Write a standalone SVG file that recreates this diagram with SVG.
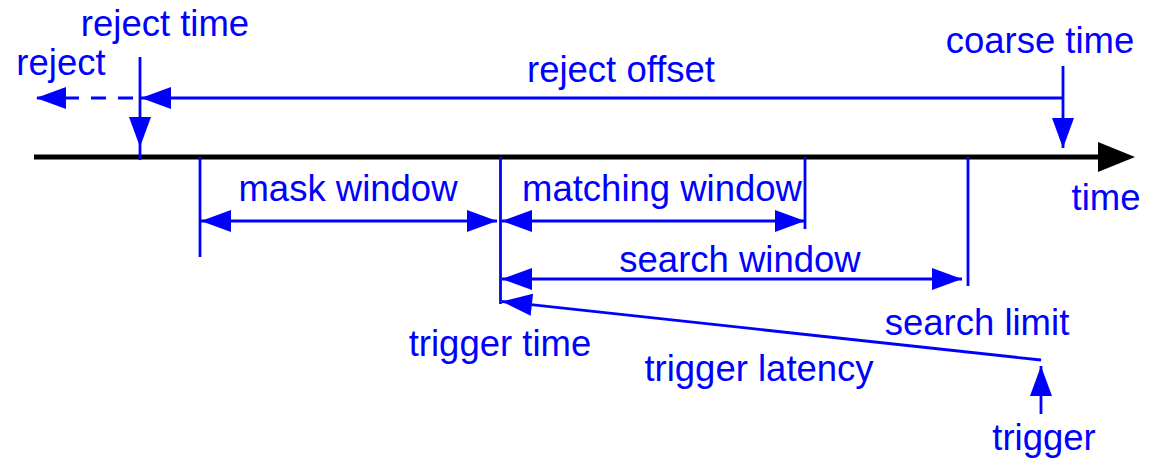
<svg xmlns="http://www.w3.org/2000/svg" width="1159" height="462" viewBox="0 0 1159 462">
<style>
.lbl{font-family:"Liberation Sans",Arial,sans-serif;font-size:36.5px;fill:#0000FF;text-anchor:middle}
.ln{stroke:#0000FF;stroke-width:2.8;fill:none}
</style>
<defs>
<marker id="ah" markerUnits="userSpaceOnUse" markerWidth="31" markerHeight="22" refX="30" refY="11" orient="auto-start-reverse" overflow="visible">
<path d="M0,0 L30,11 L0,22 Z" fill="#0000FF"/>
</marker>
<marker id="ahk" markerUnits="userSpaceOnUse" markerWidth="38" markerHeight="30" refX="37" refY="15" orient="auto" overflow="visible">
<path d="M0,0 L37,15 L0,30 Z" fill="#000000"/>
</marker>
</defs>
<rect width="1159" height="462" fill="#FFFFFF"/>
<g id="connectors">
<path id="timeline" d="M34,157 L1110,157" stroke="#000000" stroke-width="5" fill="none"/>
<path d="M1098,142 L1135,157 L1098,172 Z" fill="#000000"/>
<path id="reject-offset" class="ln" d="M1063,98 L141,98" marker-end="url(#ah)"/>
<path id="reject-dash" class="ln" d="M140,98 L36,98" stroke-dasharray="15 12" stroke-dashoffset="20" marker-end="url(#ah)"/>
<path id="reject-time-arrow" class="ln" d="M140,57 L140,147" marker-end="url(#ah)"/>
<path class="ln" d="M140,147 L140,160"/>
<path id="coarse-time-arrow" class="ln" d="M1063,66 L1063,148" marker-end="url(#ah)"/>
<path id="mask-window-arrow" class="ln" d="M201,221 L497,221" marker-start="url(#ah)" marker-end="url(#ah)"/>
<path id="matching-window-arrow" class="ln" d="M502,221 L805,221" marker-start="url(#ah)" marker-end="url(#ah)"/>
<path id="search-window-arrow" class="ln" d="M502,279 L962,279" marker-start="url(#ah)" marker-end="url(#ah)"/>
<path id="trigger-latency-arrow" class="ln" d="M1041,360 L502,301.5" marker-end="url(#ah)"/>
<path id="trigger-arrow" class="ln" d="M1041,414 L1041,366" marker-end="url(#ah)"/>
</g>
<g id="reject-time"><text class="lbl" x="165" y="36">reject time</text></g>
<g id="reject"><text class="lbl" x="61" y="75">reject</text></g>
<g id="reject-offset-label"><text class="lbl" x="621" y="82">reject offset</text></g>
<g id="coarse-time"><text class="lbl" x="1040" y="53">coarse time</text></g>
<g id="time"><text class="lbl" x="1106" y="210">time</text></g>
<g id="mask-window">
<path class="ln" d="M200,157 L200,257"/>
<text class="lbl" x="348" y="201">mask window</text>
</g>
<g id="matching-window">
<path class="ln" d="M805,157 L805,229"/>
<text class="lbl" x="662" y="201">matching window</text>
</g>
<g id="trigger-time">
<path class="ln" d="M500.5,157 L500.5,304"/>
<text class="lbl" x="500" y="356">trigger time</text>
</g>
<g id="search-window"><text class="lbl" x="740" y="272">search window</text></g>
<g id="search-limit">
<path class="ln" d="M968,157 L968,286"/>
<text class="lbl" x="977" y="335">search limit</text>
</g>
<g id="trigger-latency"><text class="lbl" x="759" y="381">trigger latency</text></g>
<g id="trigger"><text class="lbl" x="1044" y="450">trigger</text></g>
</svg>
